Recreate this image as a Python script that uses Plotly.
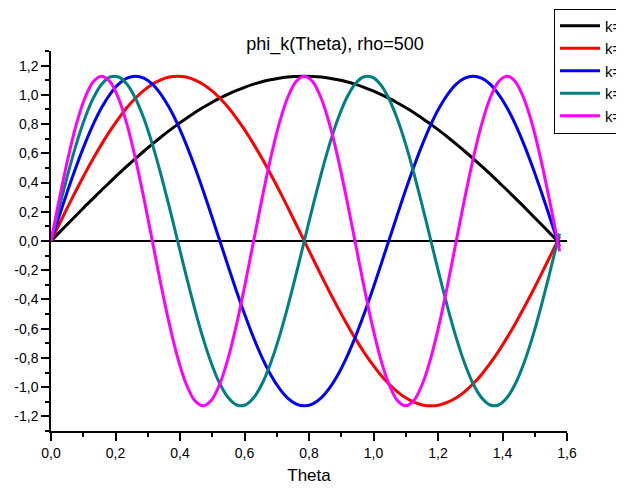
import plotly.graph_objects as go

theta = [0, 0.0262, 0.0524, 0.0785, 0.1047, 0.1309, 0.1571, 0.1833, 0.2094, 0.2356,
         0.2618, 0.2880, 0.3142, 0.3403, 0.3665, 0.3927, 0.4189, 0.4451, 0.4712, 0.4974,
         0.5236, 0.5498, 0.5760, 0.6021, 0.6283, 0.6545, 0.6807, 0.7069, 0.7330, 0.7592,
         0.7854, 0.8116, 0.8378, 0.8639, 0.8901, 0.9163, 0.9425, 0.9687, 0.9948, 1.0210,
         1.0472, 1.0734, 1.0996, 1.1257, 1.1519, 1.1781, 1.2043, 1.2305, 1.2566, 1.2828,
         1.3090, 1.3352, 1.3614, 1.3875, 1.4137, 1.4399, 1.4661, 1.4923, 1.5184, 1.5446,
         1.5708, 1.577]

phi_k1 = [0, .059, .118, .176, .235, .292, .349, .404, .459, .512, .564, .614, .663, .710, .755,
          .798, .838, .877, .913, .946, .977, 1.005, 1.030, 1.053, 1.073, 1.090, 1.103, 1.114,
          1.122, 1.126, 1.128,
          1.126, 1.122, 1.114, 1.103, 1.090, 1.073, 1.053, 1.030, 1.005, .977, .946, .913, .877,
          .838, .798, .755, .710, .663, .614, .564, .512, .459, .404, .349, .292, .235, .176,
          .118, .059, 0, -0.01]
phi_k2 = [0, .118, .235, .349, .459, .564, .663, .755, .838, .913, .977, 1.030, 1.073, 1.103, 1.122, 1.128,
          1.122, 1.103, 1.073, 1.030, .977, .913, .838, .755, .663, .564, .459, .349, .235, .118, 0,
          -.118, -.235, -.349, -.459, -.564, -.663, -.755, -.838, -.913, -.977, -1.030, -1.073, -1.103,
          -1.122, -1.128,
          -1.122, -1.103, -1.073, -1.030, -.977, -.913, -.838, -.755, -.663, -.564, -.459, -.349,
          -.235, -.118, 0, 0.03]
phi_k3 = [0, .176, .349, .512, .663, .798, .913, 1.005, 1.073, 1.114, 1.128,
          1.114, 1.073, 1.005, .913, .798, .663, .512, .349, .176, 0,
          -.176, -.349, -.512, -.663, -.798, -.913, -1.005, -1.073, -1.114, -1.128,
          -1.114, -1.073, -1.005, -.913, -.798, -.663, -.512, -.349, -.176, 0,
          .176, .349, .512, .663, .798, .913, 1.005, 1.073, 1.114, 1.128,
          1.114, 1.073, 1.005, .913, .798, .663, .512, .349, .176, 0, -0.04]
phi_k4 = [0, .235, .459, .663, .838, .977, 1.073, 1.122, 1.122, 1.073, .977, .838, .663, .459, .235, 0,
          -.235, -.459, -.663, -.838, -.977, -1.073, -1.122, -1.122, -1.073, -.977, -.838, -.663,
          -.459, -.235, 0,
          .235, .459, .663, .838, .977, 1.073, 1.122, 1.122, 1.073, .977, .838, .663, .459, .235, 0,
          -.235, -.459, -.663, -.838, -.977, -1.073, -1.122, -1.122, -1.073, -.977, -.838, -.663,
          -.459, -.235, 0, 0.05]
phi_k5 = [0, .292, .564, .798, .977, 1.090, 1.128, 1.090, .977, .798, .564, .292, 0,
          -.292, -.564, -.798, -.977, -1.090, -1.128, -1.090, -.977, -.798, -.564, -.292, 0,
          .292, .564, .798, .977, 1.090, 1.128, 1.090, .977, .798, .564, .292, 0,
          -.292, -.564, -.798, -.977, -1.090, -1.128, -1.090, -.977, -.798, -.564, -.292, 0,
          .292, .564, .798, .977, 1.090, 1.128, 1.090, .977, .798, .564, .292, 0, -0.07]

series_names = ["k=1", "k=2", "k=3", "k=4", "k=5"]
series_values = [phi_k1, phi_k2, phi_k3, phi_k4, phi_k5]
colors = ["#000000", "#FF0000", "#0000FF", "#008080", "#FF00FF"]

x_ticks = [0, 0.2, 0.4, 0.6, 0.8, 1.0, 1.2, 1.4, 1.6]
x_ticktext = ["0,0", "0,2", "0,4", "0,6", "0,8", "1,0", "1,2", "1,4", "1,6"]
y_ticks = [-1.2, -1.0, -0.8, -0.6, -0.4, -0.2, 0, 0.2, 0.4, 0.6, 0.8, 1.0, 1.2]
y_ticktext = ["-1,2", "-1,0", "-0,8", "-0,6", "-0,4", "-0,2", "0,0",
              "0,2", "0,4", "0,6", "0,8", "1,0", "1,2"]

fig = go.Figure()
for name, vals, col in zip(series_names, series_values, colors):
    fig.add_trace(go.Scatter(x=theta, y=vals, mode="lines", name=name,
                             line=dict(color=col, width=3, shape="spline", smoothing=0.8)))

font = "Liberation Sans, Arial, sans-serif"
axis_common = dict(showline=True, linecolor="black", linewidth=1.5, mirror=False,
                   ticks="outside", ticklen=8, tickwidth=1.5, tickcolor="black",
                   showgrid=False, tickfont=dict(family=font, size=14, color="black"))

# page has an 8px body margin; figure is sized so it ends at the window edge
W, H = 616, 484
L, T, R, B = 43, 43, 57, 61
PW, PH = W - L - R, H - T - B

fig.update_layout(
    width=W, height=H,
    margin=dict(l=L, r=R, t=T, b=B, autoexpand=False),
    paper_bgcolor="white", plot_bgcolor="white",
    title=dict(text="phi_k(Theta), rho=500", x=(327 - L) / PW, xref="paper", xanchor="center",
               y=1 - 36 / H, yanchor="middle",
               font=dict(family=font, size=18, color="black")),
    xaxis=dict(range=[0, 1.6], tickmode="array", tickvals=x_ticks, ticktext=x_ticktext,
               zeroline=False,
               minor=dict(tickmode="linear", tick0=0, dtick=0.1, ticks="outside", ticklen=4,
                          tickwidth=1.5, tickcolor="black"),
               title=dict(text="Theta", font=dict(family=font, size=17, color="black"), standoff=10),
               **axis_common),
    yaxis=dict(range=[-1.3, 1.3], tickmode="array", tickvals=y_ticks, ticktext=y_ticktext,
               zeroline=True, zerolinecolor="black", zerolinewidth=1.5,
               minor=dict(tickmode="linear", tick0=0, dtick=0.1, ticks="outside", ticklen=4,
                          tickwidth=1.5, tickcolor="black"),
               **axis_common),
    showlegend=True,
    legend=dict(x=(546 - L) / PW, y=1 + (T - 0.5) / PH, xanchor="left", yanchor="top",
                bordercolor="black", borderwidth=1, bgcolor="white",
                font=dict(family=font, size=15, color="black"), itemwidth=40,
                tracegroupgap=0),
)

fig.write_html("out.html")
